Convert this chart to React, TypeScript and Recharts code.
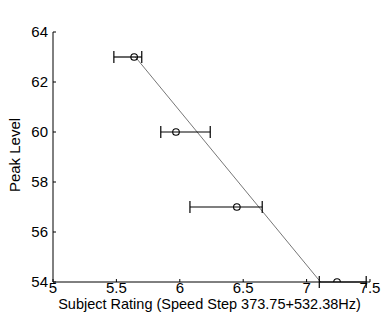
import { ComposedChart, Scatter, XAxis, YAxis, ErrorBar, ReferenceLine, Label } from 'recharts';

// subject rating per peak level, with asymmetric spread [below, above]
const peakLevels = [63, 60, 57, 54];
const ratings = [5.64, 5.97, 6.45, 7.24];
const ratingSpread: [number, number][] = [
  [0.16, 0.06],
  [0.12, 0.27],
  [0.37, 0.2],
  [0.14, 0.23],
];

// fitted line end points
const fitRating = [5.65, 7.11];
const fitLevel = [63, 54];

const xTicks = [5, 5.5, 6, 6.5, 7, 7.5];
const yTicks = [54, 56, 58, 60, 62, 64];

const points = ratings.map((r, i) => ({ rating: r, level: peakLevels[i], spread: ratingSpread[i] }));

const font = 'Liberation Sans, Arial, sans-serif';
const tickStyle = { fontSize: 15, fill: '#000', fontFamily: font };

const OpenCircle = (props: any) => (
  <circle cx={props.cx} cy={props.cy} r={3.3} fill="none" stroke="#000" strokeWidth={1.1} />
);

const App = () => {
  return (
    <div style={{ position: 'absolute', left: 0, top: 0, width: 384, height: 320, background: '#fff' }}>
      <ComposedChart width={384} height={320} margin={{ top: 32, right: 14, left: 0, bottom: 0 }}>
        <XAxis
          xAxisId="bottom"
          type="number"
          dataKey="rating"
          domain={[5, 7.5]}
          ticks={xTicks}
          height={38}
          stroke="#000"
          tickSize={-3}
          tickMargin={3}
          tick={tickStyle}
          allowDataOverflow
        >
          <Label
            content={({ viewBox }: any) => (
              <text
                x={viewBox.x + viewBox.width / 2 - 2}
                y={309}
                textAnchor="middle"
                fontSize={14.5}
                fontFamily={font}
                fill="#000"
              >
                Subject Rating (Speed Step 373.75+532.38Hz)
              </text>
            )}
          />
        </XAxis>
        <XAxis
          xAxisId="top"
          orientation="top"
          type="number"
          domain={[5, 7.5]}
          ticks={xTicks}
          height={0}
          stroke="#000"
          tickSize={-3}
          tick={false}
          allowDataOverflow
        >
          <Label
            content={({ viewBox }: any) => (
              <text
                x={viewBox.x + viewBox.width / 2}
                y={20}
                textAnchor="middle"
                fontSize={13.5}
                fontFamily={font}
                fill="#000"
              >
                Correlation = - 0.977
              </text>
            )}
          />
        </XAxis>
        <YAxis
          yAxisId="left"
          type="number"
          dataKey="level"
          domain={[54, 64]}
          ticks={yTicks}
          width={53}
          stroke="#000"
          tickSize={-3}
          tickMargin={8}
          tick={tickStyle}
          allowDataOverflow
        >
          <Label
            content={({ viewBox }: any) => (
              <text
                x={0}
                y={0}
                transform={`translate(20, ${viewBox.y + viewBox.height / 2 - 2}) rotate(-90)`}
                textAnchor="middle"
                fontSize={15}
                fontFamily={font}
                fill="#000"
              >
                Peak Level
              </text>
            )}
          />
        </YAxis>
        <YAxis
          yAxisId="right"
          orientation="right"
          type="number"
          domain={[54, 64]}
          ticks={yTicks}
          width={0}
          stroke="#000"
          tickSize={-3}
          tick={false}
          allowDataOverflow
        />
        <ReferenceLine
          xAxisId="bottom"
          yAxisId="left"
          segment={[
            { x: fitRating[0], y: fitLevel[0] },
            { x: fitRating[1], y: fitLevel[1] },
          ]}
          stroke="#777"
          strokeWidth={1}
          ifOverflow="visible"
        />
        <Scatter
          xAxisId="bottom"
          yAxisId="left"
          data={points}
          shape={OpenCircle}
          isAnimationActive={false}
        >
          <ErrorBar dataKey="spread" direction="x" width={6} stroke="#000" strokeWidth={1.2} isAnimationActive={false} />
        </Scatter>
      </ComposedChart>
    </div>
  );
};

export default App;
